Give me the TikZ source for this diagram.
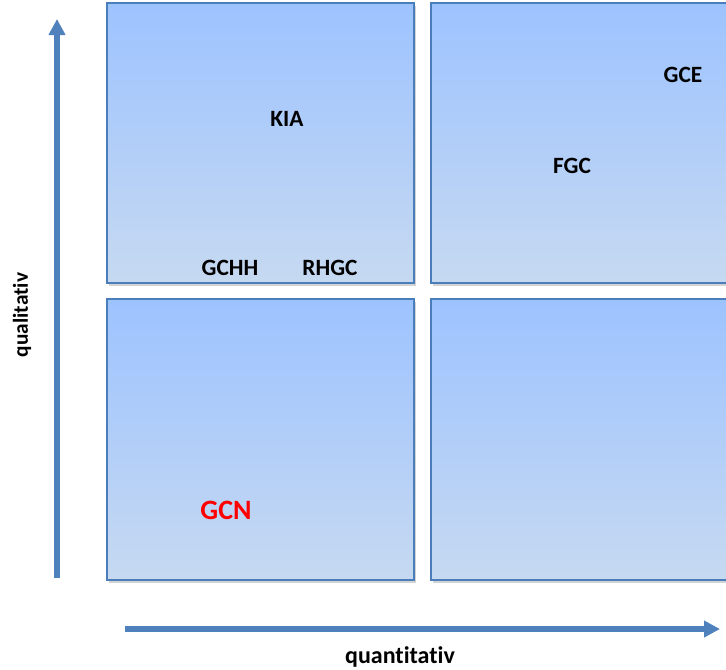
\documentclass[tikz,border=0pt]{standalone}
\usepackage{fontspec}
\setmainfont{Carlito}[Ligatures={NoCommon}]
\usetikzlibrary{arrows.meta,shadows}
\definecolor{boxtop}{RGB}{157,195,255}
\definecolor{boxbot}{RGB}{198,217,241}
\definecolor{boxline}{RGB}{74,126,187}
\definecolor{axis}{RGB}{79,129,189}

\begin{document}
\begin{tikzpicture}[x=0.75pt,y=-0.75pt,
   quad/.style={draw=boxline,line width=1.5pt,top color=boxtop,bottom color=boxbot,
      drop shadow={shadow xshift=1.5pt,shadow yshift=-2.5pt,opacity=.35}},
   axisarrow/.style={draw=axis,line width=4.5pt,
      -{Triangle[width=12pt,length=12pt]}},
   tag/.style={font=\bfseries\fontsize{17.5}{20}\selectfont},
   axislabel/.style={font=\bfseries\fontsize{16}{19}\selectfont}]

\useasboundingbox (0,0) rectangle (726,669);

% the four fields
\path[quad] (107,3) rectangle (414,283);
\path[quad] (431,3) rectangle (735,283);
\path[quad] (107,299) rectangle (414,580);
\path[quad] (431,299) rectangle (735,580);

% axes
\coordinate (qlstart) at (57,578);
\coordinate (qlend) at (57,19);
\coordinate (qnstart) at (125,629);
\coordinate (qnend) at (720,629);
\draw[axisarrow] (qlstart) -- (qlend);
\draw[axisarrow] (qnstart) -- (qnend);
\node[axislabel,rotate=90] (quali) at (22,315) {qualitativ};
\node[axislabel,font=\bfseries\fontsize{18}{21}\selectfont] (quanti) at (400,657) {quantitativ};

% entries
\node[tag] (kia) at (287,119) {KIA};
\node[tag] (gce) at (683,75) {GCE};
\node[tag] (fgc) at (572,166) {FGC};
\node[tag] (gchh) at (230,268) {GCHH};
\node[tag] (rhgc) at (330,268) {RHGC};
\node[tag,red,font=\bfseries\fontsize{21}{25}\selectfont] (gcn) at (226,510) {GCN};

\end{tikzpicture}
\end{document}
